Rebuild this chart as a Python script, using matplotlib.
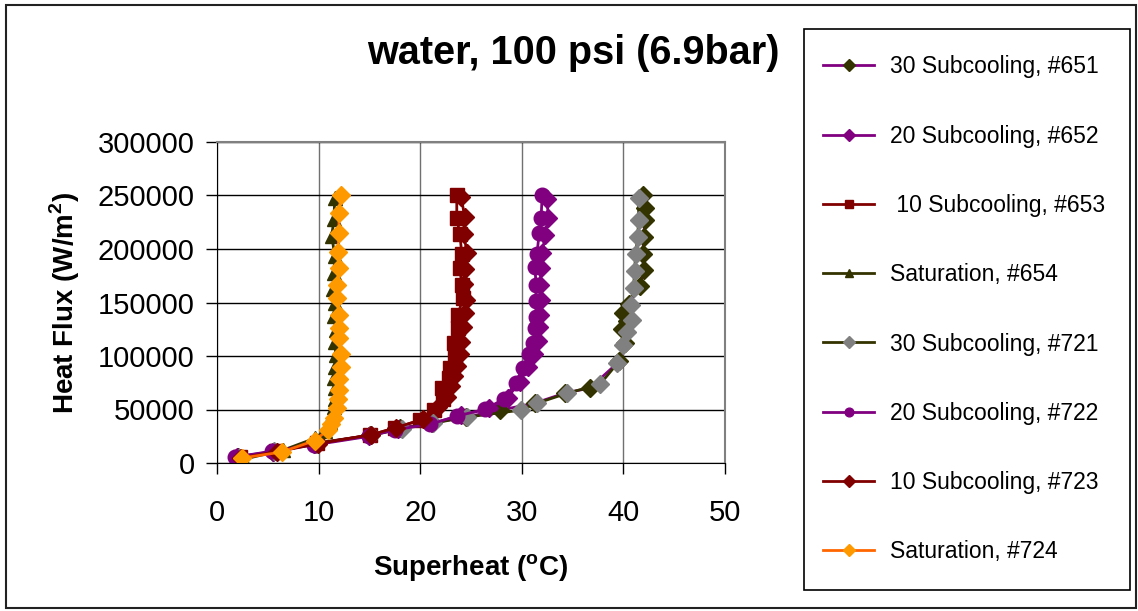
import matplotlib.pyplot as plt
from matplotlib.patches import Rectangle
from matplotlib.ticker import MultipleLocator, FuncFormatter

plt.rcParams['font.family'] = ['Liberation Sans', 'DejaVu Sans']

# superheat (C) / heat flux (W/m2)
x651 = [2.1, 5.5, 9.6, 15.1, 18.0, 21.2, 24.5, 27.9, 31.3, 34.3, 36.7, 39.6, 40.2, 39.9,
        40.4, 40.0, 40.6, 41.6, 42.0, 41.9, 42.0, 42.1, 42.1, 41.9]
y651 = [5200, 10600, 18000, 26000, 32500, 37500, 43000, 49400, 56000, 65500, 70000, 95000,
        112000, 125000, 133000, 140000, 149000, 165000, 180000, 195000, 211000, 227000,
        238000, 250000]

x652 = [2.0, 5.5, 9.5, 15.0, 17.8, 21.2, 24.0, 26.8, 28.6, 29.8, 30.6, 31.2, 31.6, 31.7,
        31.8, 31.9, 31.8, 31.9, 32.0, 32.3, 32.6, 32.5]
y652 = [6000, 10500, 17500, 25500, 32000, 37000, 44500, 51000, 61000, 76000, 90000, 102000,
        114000, 127000, 138000, 152000, 166000, 182000, 196000, 213000, 229000, 247000]

x653 = [2.3, 5.8, 9.8, 15.1, 17.5, 20.0, 21.4, 22.2, 22.1, 22.8, 22.9, 23.4, 23.3, 23.7,
        23.7, 24.2, 24.1, 23.9, 24.1, 23.9, 23.6, 23.6]
y653 = [5600, 11000, 18600, 26000, 32600, 40000, 50000, 60000, 70000, 79000, 89000, 99000,
        112000, 126000, 138000, 154000, 166000, 182000, 195000, 214000, 229000, 250000]

x654 = [2.6, 6.5, 9.6, 10.6, 11.1, 11.3, 11.5, 11.6, 11.6, 11.5, 11.6, 11.7, 11.6, 11.7,
        11.5, 11.6, 11.4, 11.5, 11.6, 11.3, 11.5, 11.6]
y654 = [3500, 12000, 23000, 30000, 38000, 45000, 52000, 60000, 70000, 79000, 90000, 101000,
        113000, 124000, 137000, 150000, 163000, 178000, 193000, 212000, 228000, 248000]

x721 = [2.2, 5.6, 9.7, 15.2, 18.2, 21.3, 24.6, 29.9, 31.5, 34.4, 37.7, 39.4, 40.0, 40.4,
        40.8, 40.7, 41.0, 41.1, 41.2, 41.4, 41.5, 41.5]
y721 = [5000, 10800, 18000, 26000, 32000, 37300, 42900, 49400, 55900, 65000, 73600, 93000,
        110000, 122000, 134000, 148000, 164000, 179000, 195000, 211000, 227000, 248000]

x722 = [1.8, 5.4, 9.5, 15.0, 17.5, 21.0, 23.6, 26.4, 28.2, 29.4, 30.1, 30.7, 31.1, 31.3,
        31.4, 31.4, 31.4, 31.3, 31.5, 31.7, 31.9, 32.0]
y722 = [5600, 11000, 16800, 25000, 31000, 36300, 43800, 50300, 59600, 74500, 88500, 101500,
        112000, 126000, 136000, 151000, 166000, 183000, 195000, 215000, 229000, 250000]

x723 = [2.4, 5.9, 9.9, 15.2, 17.6, 20.3, 21.8, 22.6, 23.0, 23.3, 23.6, 23.9, 24.0, 24.2,
        24.4, 24.5, 24.3, 24.4, 24.6, 24.3, 24.4, 24.0]
y723 = [5000, 10500, 18000, 26500, 33000, 41000, 52000, 62000, 72000, 81000, 91000, 102000,
        113000, 127000, 140000, 152000, 167000, 181000, 196000, 214000, 230000, 249000]

x724 = [2.5, 6.4, 9.6, 10.9, 11.2, 11.5, 11.8, 11.9, 12.0, 12.0, 12.2, 12.2, 12.0, 12.0,
        12.0, 11.8, 11.8, 12.0, 11.9, 12.0, 12.0, 12.2]
y724 = [4700, 10300, 21000, 30700, 36000, 42000, 51200, 59600, 68000, 78300, 89400, 101600,
        116500, 126600, 138700, 154500, 166600, 182000, 197000, 215000, 234000, 250000]

series = [
    ('30 Subcooling, #651', x651, y651, '#800080', 'D', '#333300'),
    ('20 Subcooling, #652', x652, y652, '#800080', 'D', '#800080'),
    (' 10 Subcooling, #653', x653, y653, '#800000', 's', '#800000'),
    ('Saturation, #654', x654, y654, '#333300', '^', '#333300'),
    ('30 Subcooling, #721', x721, y721, '#333300', 'D', '#808080'),
    ('20 Subcooling, #722', x722, y722, '#800080', 'o', '#800080'),
    ('10 Subcooling, #723', x723, y723, '#800000', 'D', '#800000'),
    ('Saturation, #724', x724, y724, '#FF6600', 'D', '#FF9900'),
]
msizes = {'D': 9.5, 's': 9.5, 'o': 10.5, '^': 10}

W, H = 1138, 611
fig = plt.figure(figsize=(W / 100, H / 100), dpi=100)
ax = fig.add_axes([217 / W, (H - 463) / H, (725 - 217) / W, (463 - 142) / H])

for label, xs, ys, lc, mk, mc in series:
    ax.plot(xs, ys, color=lc, lw=2, marker=mk, ms=msizes[mk], mfc=mc, mec=mc, label=label)

ax.set_xlim(0, 50)
ax.set_ylim(0, 300000)
ax.xaxis.set_major_locator(MultipleLocator(10))
ax.yaxis.set_major_locator(MultipleLocator(50000))
ax.yaxis.set_major_formatter(FuncFormatter(lambda v, p: '%d' % v))
ax.tick_params(labelsize=21, length=8, width=1, color='black')
ax.tick_params(axis='y', pad=8)
ax.tick_params(axis='x', pad=18)
ax.grid(axis='y', color='black', lw=1)
ax.grid(axis='x', color='#707070', lw=1)
ax.set_axisbelow(True)
for s in ['top', 'right']:
    ax.spines[s].set_color('#808080')
    ax.spines[s].set_linewidth(1.5)
for s in ['left', 'bottom']:
    ax.spines[s].set_color('black')

ax.set_xlabel('Superheat ($^\\mathregular{o}$C)', fontsize=20, fontweight='bold', labelpad=18)
ax.set_ylabel('Heat Flux (W/m$^\\mathregular{2}$)', fontsize=20, fontweight='bold', labelpad=11)
fig.text(573 / W, 1 - 53 / H, 'water, 100 psi (6.9bar)', fontsize=28.5, fontweight='bold',
         ha='center', va='center')

# legend box drawn separately so the inner padding can be set on its own
fig.patches.append(Rectangle((804 / W, 1 - 590 / H), 326 / W, 561 / H,
                             transform=fig.transFigure, fill=False,
                             edgecolor='black', lw=1.2))
leg = ax.legend(loc='upper left', bbox_to_anchor=(797 / W, 1 - 29 / H),
                bbox_transform=fig.transFigure, fontsize=16.5, frameon=False,
                labelspacing=2.02, borderpad=1.15,
                handlelength=2.2, handletextpad=0.7, markerscale=0.6, borderaxespad=0)

fig.patches.append(Rectangle((6 / W, 3 / H), 1130 / W, 603 / H, transform=fig.transFigure,
                             fill=False, edgecolor='#222222', lw=1.5))

fig.savefig('out.png', dpi=100)
